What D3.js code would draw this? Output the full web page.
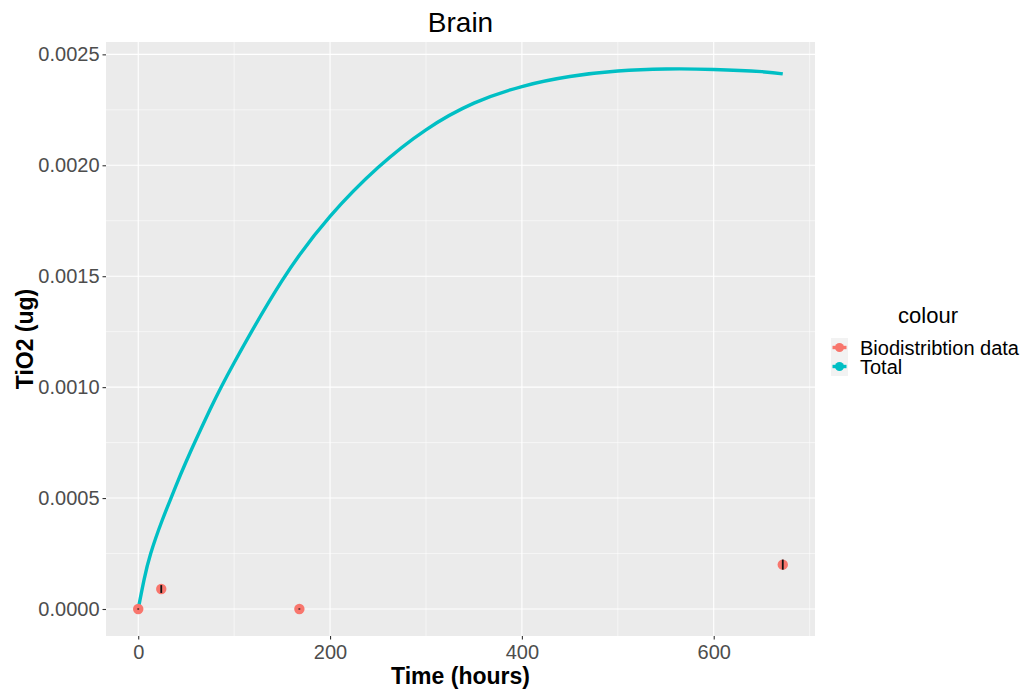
<!DOCTYPE html>
<html>
<head>
<meta charset="utf-8">
<script src="https://cdn.jsdelivr.net/npm/d3@7"></script>
<style>
  body { margin: 0; background: #fff; }
  text { font-family: "Liberation Sans", Arial, sans-serif; }
</style>
</head>
<body>
<svg id="chart"></svg>
<script>
// model curve ("Total")
var curveTime = [0, 6, 13, 25, 37, 50, 75, 100, 150, 200, 250, 300, 350, 400, 450, 500, 550, 600, 650, 672];
var curveVal = [0, 0.00013, 0.00025, 0.00040, 0.00053, 0.000665, 0.00090, 0.00111, 0.00148, 0.00177, 0.00199,
                0.00216, 0.00228, 0.002355, 0.00240, 0.002425, 0.002434, 0.002432, 0.002422, 0.002412];

// biodistribution measurements with error bars
var obsTime = [0, 24, 168, 672];
var obsVal = [0, 0.00009, 0, 0.0002];
var obsLo = [0, 0.000075, 0, 0.00018];
var obsHi = [0, 0.000105, 0, 0.00022];

var xTicks = [0, 200, 400, 600];
var yTicks = [0, 0.0005, 0.001, 0.0015, 0.002, 0.0025];
var legendLabels = ["Biodistribtion data", "Total"];
var colors = ["#F8766D", "#00BFC4"];

const W = 1030, H = 693;
const margin = {top: 42, right: 215, bottom: 57, left: 106};

var svg = d3.select("#chart").attr("width", W).attr("height", H);

// ggplot style 5% expansion
var xMin = 0, xMax = d3.max(curveTime.concat(obsTime));
var yMin = 0, yMax = d3.max(curveVal.concat(obsHi));
var xPad = (xMax - xMin) * 0.05, yPad = (yMax - yMin) * 0.05;

var x = d3.scaleLinear().domain([xMin - xPad, xMax + xPad]).range([margin.left, W - margin.right]);
var y = d3.scaleLinear().domain([yMin - yPad, yMax + yPad]).range([H - margin.bottom, margin.top]);

var pw = W - margin.right - margin.left, ph = H - margin.bottom - margin.top;

// panel
svg.append("rect").attr("x", margin.left).attr("y", margin.top)
  .attr("width", pw).attr("height", ph).attr("fill", "#EBEBEB");

// minor grid
var xMinor = [100, 300, 500, 700];
var yMinor = [0.00025, 0.00075, 0.00125, 0.00175, 0.00225];
svg.append("g").selectAll("line").data(xMinor).enter().append("line")
  .attr("x1", d => x(d)).attr("x2", d => x(d))
  .attr("y1", margin.top).attr("y2", margin.top + ph)
  .attr("stroke", "#fff").attr("stroke-width", 0.55);
svg.append("g").selectAll("line").data(yMinor).enter().append("line")
  .attr("y1", d => y(d)).attr("y2", d => y(d))
  .attr("x1", margin.left).attr("x2", margin.left + pw)
  .attr("stroke", "#fff").attr("stroke-width", 0.55);

// major grid
svg.append("g").selectAll("line").data(xTicks).enter().append("line")
  .attr("x1", d => x(d)).attr("x2", d => x(d))
  .attr("y1", margin.top).attr("y2", margin.top + ph)
  .attr("stroke", "#fff").attr("stroke-width", 1.1);
svg.append("g").selectAll("line").data(yTicks).enter().append("line")
  .attr("y1", d => y(d)).attr("y2", d => y(d))
  .attr("x1", margin.left).attr("x2", margin.left + pw)
  .attr("stroke", "#fff").attr("stroke-width", 1.1);

// axes
var xAxis = d3.axisBottom(x).tickValues(xTicks).tickSize(3.5).tickPadding(5).tickFormat(d3.format("d"));
var yAxis = d3.axisLeft(y).tickValues(yTicks).tickSize(3.5).tickPadding(3).tickFormat(d3.format(".4f"));

var xG = svg.append("g").attr("transform", "translate(0," + (margin.top + ph) + ")").call(xAxis);
var yG = svg.append("g").attr("transform", "translate(" + margin.left + ",0)").call(yAxis);
[xG, yG].forEach(function(g) {
  g.select(".domain").remove();
  g.selectAll(".tick line").attr("stroke", "#333").attr("stroke-width", 1.1);
  g.selectAll(".tick text").attr("fill", "#4D4D4D").style("font-size", "20px");
});
xG.selectAll(".tick text").attr("dy", "0.74em");

// curve
var line = d3.line().x(d => x(d[0])).y(d => y(d[1])).curve(d3.curveNatural);
svg.append("path").datum(d3.zip(curveTime, curveVal))
  .attr("d", line).attr("fill", "none")
  .attr("stroke", colors[1]).attr("stroke-width", 3.4);

// points + error bars
var obs = obsTime.map((t, i) => ({t: t, v: obsVal[i], lo: obsLo[i], hi: obsHi[i]}));
svg.append("g").selectAll("circle").data(obs).enter().append("circle")
  .attr("cx", d => x(d.t)).attr("cy", d => y(d.v)).attr("r", 5.2)
  .attr("fill", colors[0]);
svg.append("g").selectAll("line").data(obs).enter().append("line")
  .attr("x1", d => x(d.t)).attr("x2", d => x(d.t))
  .attr("y1", d => y(d.lo) + 0.6).attr("y2", d => y(d.hi) - 0.6)
  .attr("stroke", "#111").attr("stroke-width", 1.8);

// titles
svg.append("text").attr("x", margin.left + pw / 2).attr("y", 32)
  .attr("text-anchor", "middle").style("font-size", "28px").attr("fill", "#000").text("Brain");
svg.append("text").attr("x", margin.left + pw / 2).attr("y", 684)
  .attr("text-anchor", "middle").style("font-size", "23px").style("font-weight", "bold").text("Time (hours)");
svg.append("text").attr("transform", "translate(33," + (margin.top + ph / 2) + ") rotate(-90)")
  .attr("text-anchor", "middle").style("font-size", "23px").style("font-weight", "bold").text("TiO2 (ug)");

// legend
var lg = svg.append("g").attr("transform", "translate(831,338)");
lg.append("text").attr("x", 97).attr("y", -15).attr("text-anchor", "middle")
  .style("font-size", "22px").text("colour");
var rows = lg.selectAll("g.row").data(legendLabels).enter().append("g")
  .attr("transform", (d, i) => "translate(0," + (i * 19) + ")");
rows.append("rect").attr("width", 17).attr("height", 19).attr("fill", "#F2F2F2");
rows.append("line").attr("x1", 1.5).attr("x2", 15.5).attr("y1", 9.5).attr("y2", 9.5)
  .attr("stroke", (d, i) => colors[i]).attr("stroke-width", 3.4);
rows.append("circle").attr("cx", 8.5).attr("cy", 9.5).attr("r", 4.5).attr("fill", (d, i) => colors[i]);
rows.append("text").attr("x", 29).attr("y", 16.5).style("font-size", "20px").text(d => d);
</script>
</body>
</html>
